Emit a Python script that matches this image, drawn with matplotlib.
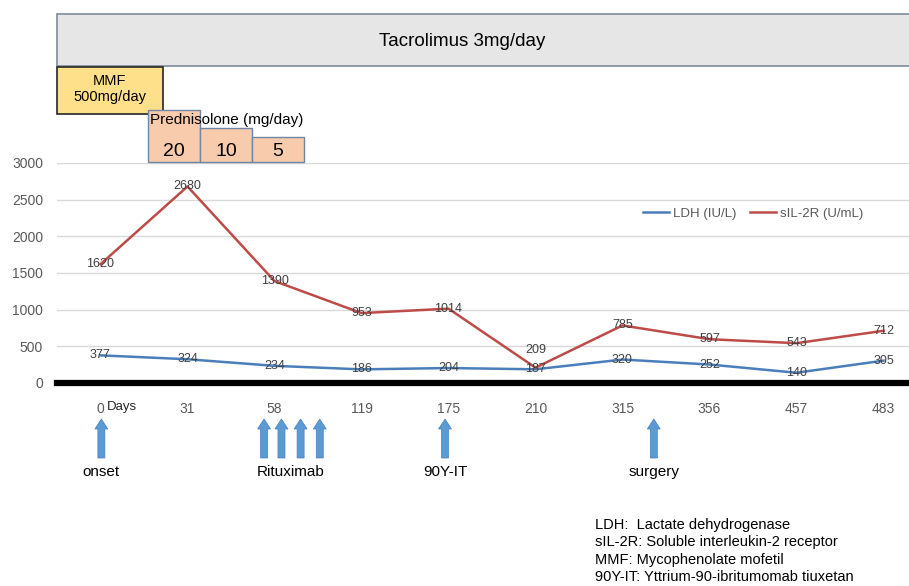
import numpy as np
import matplotlib.pyplot as plt
from matplotlib.patches import Rectangle, FancyArrow

plt.rcParams['font.family'] = ['Liberation Sans', 'DejaVu Sans']

# ---------------------------------------------------------------------------------------------- #
# Data
days = ['0', '31', '58', '119', '175', '210', '315', '356', '457', '483']
ldh = [377, 324, 234, 186, 204, 187, 320, 252, 140, 305]
sil2r = [1620, 2680, 1390, 953, 1014, 209, 785, 597, 543, 712]

# Events (positions in category units) and their labels
rituximab_pos = [1.88, 2.08, 2.30, 2.52]
event_pos = [0.01, 3.96, 6.36]
event_names = ['onset', '90Y-IT', 'surgery']

pred_doses = ['20', '10', '5']

notes = ['LDH:  Lactate dehydrogenase',
         'sIL-2R: Soluble interleukin-2 receptor',
         'MMF: Mycophenolate mofetil',
         '90Y-IT: Yttrium-90-ibritumomab tiuxetan']

# ---------------------------------------------------------------------------------------------- #
W, H = 909, 586
fig = plt.figure(figsize=(W / 100, H / 100), dpi=100)

# main axes: left 57 px, each category 87 px wide, y from 163 (3000) to 383 (0)
ax = fig.add_axes([57 / W, 1 - 383 / H, 870 / W, 220 / H])
x = np.arange(len(days))

blue = '#4a7ebb'
red = '#be4b48'
ax.plot(x, ldh, color=blue, lw=1.8, label='LDH (IU/L)')
ax.plot(x, sil2r, color=red, lw=1.8, label='sIL-2R (U/mL)')

lab_col = '#404040'
for xi, v in zip(x, ldh):
    ax.annotate(str(v), (xi, v), ha='center', va='center', fontsize=9, color=lab_col)
for xi, v in zip(x, sil2r):
    dy = 13 if v == 209 else 0   # this label sits above the point in the original
    ax.annotate(str(v), (xi, v), xytext=(0, dy), textcoords='offset points',
                ha='center', va='center', fontsize=9, color=lab_col)

ax.set_xlim(-0.5, len(days) - 0.5)
ax.set_ylim(0, 3000)
ax.set_yticks(np.arange(0, 3001, 500))
ax.yaxis.grid(True, color='#d9d9d9', lw=1)
ax.set_axisbelow(True)
for s in ['top', 'right', 'left']:
    ax.spines[s].set_visible(False)
ax.spines['bottom'].set_linewidth(4.5)
ax.spines['bottom'].set_color('black')
ax.tick_params(axis='y', length=0, labelsize=10, colors='#595959', pad=10)
ax.set_xticks(x)
ax.set_xticklabels(days)
ax.tick_params(axis='x', length=0, labelsize=10, colors='#595959', pad=14)

ax.legend(loc='upper left', bbox_to_anchor=(0.66, 0.85), ncol=2, frameon=False,
          fontsize=9.5, handlelength=2.0, columnspacing=1.0, handletextpad=0.3,
          labelcolor='#595959')

# ---------------------------------------------------------------------------------------------- #
# Treatment boxes (pixel coordinates on an overlay axes)
ov = fig.add_axes([0, 0, 1, 1])
ov.set_xlim(0, W)
ov.set_ylim(H, 0)
ov.axis('off')

ov.text(107, 407, 'Days', ha='left', va='center', fontsize=9.5, color='#262626')

ov.add_patch(Rectangle((57, 14), 880, 52, facecolor='#e7e6e6', edgecolor='#7f8a99', lw=1.2))
ov.text(462, 41, 'Tacrolimus 3mg/day', ha='center', va='center', fontsize=13.5)

ov.add_patch(Rectangle((57, 67), 106, 47, facecolor='#ffe08a', edgecolor='#262626', lw=1.2))
ov.text(110, 89, 'MMF\n500mg/day', ha='center', va='center', multialignment='center',
        fontsize=10.5, linespacing=1.25)

pred_boxes = [(148, 110), (200, 128), (252, 137)]
for (bx, by), d in zip(pred_boxes, pred_doses):
    ov.add_patch(Rectangle((bx, by), 52, 162 - by, facecolor='#f8cbad',
                           edgecolor='#6e87a5', lw=1.0))
    ov.text(bx + 26, 152, d, ha='center', va='center', fontsize=14)
ov.text(150, 120, 'Prednisolone (mg/day)', ha='left', va='center', fontsize=11)

# ---------------------------------------------------------------------------------------------- #
# Event arrows below the axis
def px(pos):
    return 100.5 + 87 * pos

arrow_col = '#5b9bd5'
for p in rituximab_pos + event_pos:
    ov.add_patch(FancyArrow(px(p), 458, 0, -39, width=7, head_width=13, head_length=10,
                            length_includes_head=True, facecolor=arrow_col,
                            edgecolor='#4a7ebb', lw=0.5))
ov.text(291, 472, 'Rituximab', ha='center', va='center', fontsize=11)
for p, name in zip(event_pos, event_names):
    ov.text(px(p), 472, name, ha='center', va='center', fontsize=11)

ov.text(595, 551, '\n'.join(notes), ha='left', va='center', fontsize=10.5,
        linespacing=1.3)

plt.savefig('out.png', dpi=100)
